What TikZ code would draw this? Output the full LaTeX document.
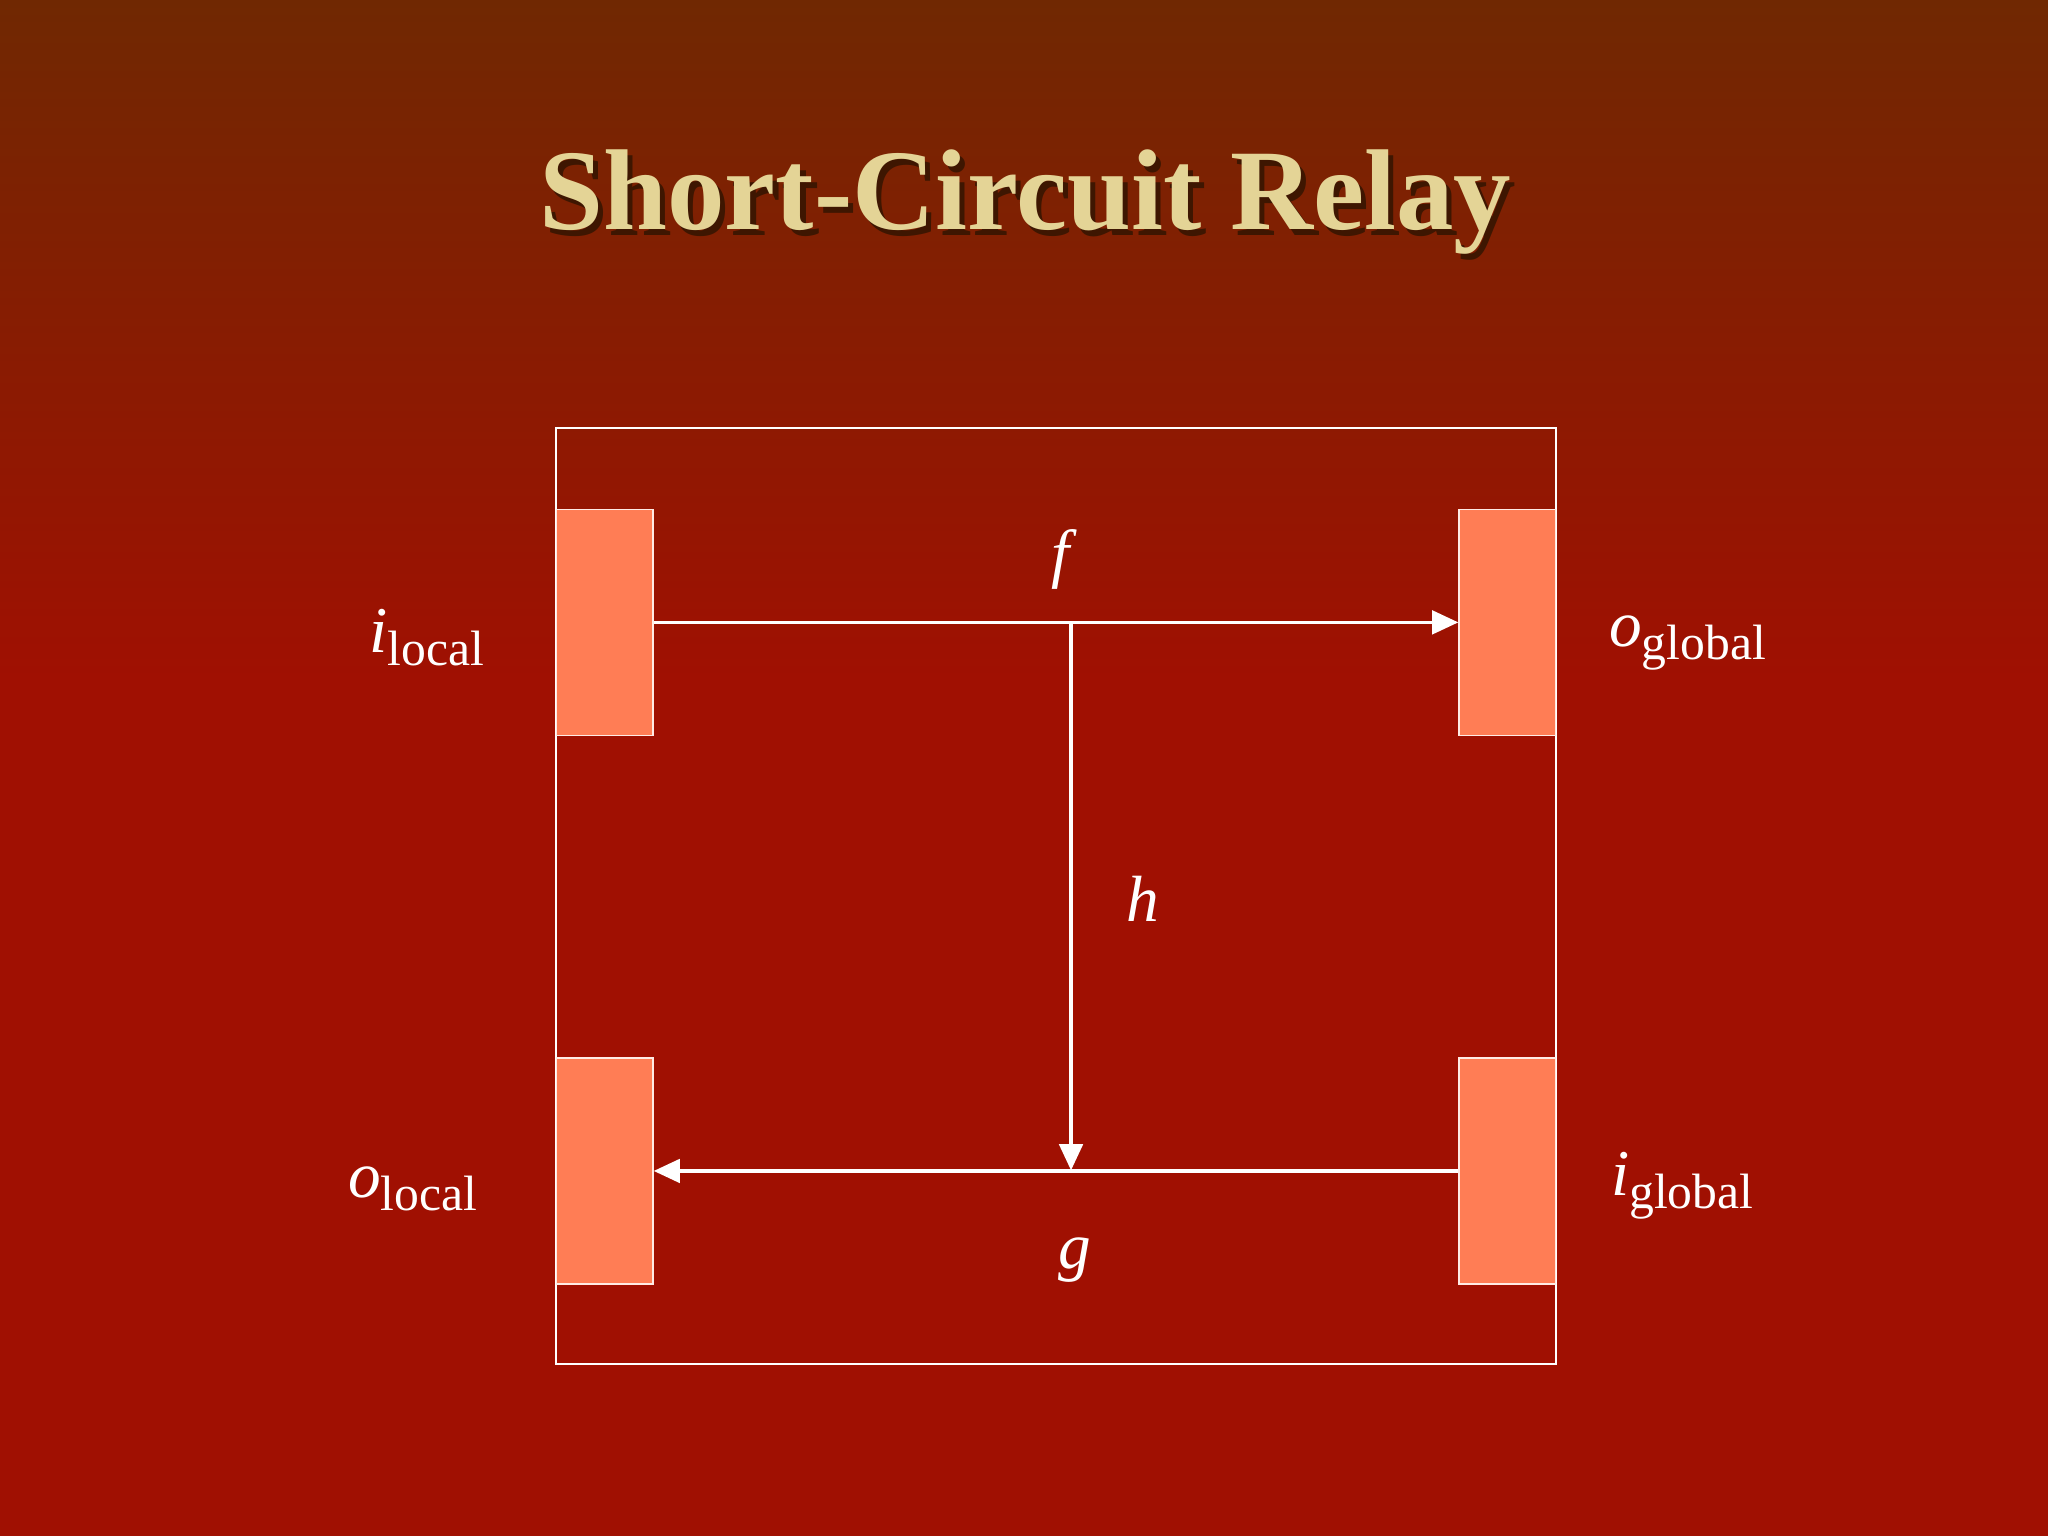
\documentclass[tikz,border=0pt]{standalone}
\usepackage{fontspec}
\setmainfont{Liberation Serif}
\usetikzlibrary{arrows.meta}
\definecolor{bgtop}{RGB}{112,40,2}
\definecolor{bgbot}{RGB}{160,16,2}
\definecolor{coral}{RGB}{255,125,85}
\definecolor{titlec}{RGB}{228,212,150}
\tikzset{
 port/.style={draw=white!85!coral,line width=1pt,fill=coral,minimum width=74pt,minimum height=173pt,inner sep=0pt},
 wire/.style={white,line width=2.5pt},
 arr/.style={wire,-{Triangle[length=20pt,width=18pt]}},
 lbl/.style={text=white,font=\fontsize{50}{50}\selectfont\itshape},
 ttl/.style={font=\fontsize{88}{88}\selectfont\bfseries},
}
\begin{document}
\begin{tikzpicture}[x=1pt,y=-1pt]
\useasboundingbox (0,0) rectangle (1568,1176);
\fill[bgbot] (0,0) rectangle (1568,1176);
\shade[top color=bgtop,bottom color=bgbot] (0,0) rectangle (1568,520);
\node[text=black!45!bgtop,ttl] at (789,159) {Short-Circuit Relay};
\node (title) [text=titlec,ttl] at (785,155) {Short-Circuit Relay};
\node (frame) [draw=white,line width=1.5pt,minimum width=765pt,minimum height=716pt,inner sep=0pt] at (808.5,686) {};
\node (il) [port] at (463,476.5) {};
\node (og) [port] at (1154,476.5) {};
\node (ol) [port] at (463,896.5) {};
\node (ig) [port] at (1154,896.5) {};
\coordinate (j) at (820,477);
\coordinate (k) at (820,896);
\draw[arr] (il.east) -- (og.west);
\draw[arr] (j) -- (k);
\draw[arr] (ig.west) -- (ol.east);
\node (f) [lbl] at (812,428) {f};
\node (h) [lbl] at (875,688) {h};
\node (g) [lbl] at (823,965) {g};
\node (lil) [lbl] at (327,488) {i\textup{\fontsize{38}{38}\selectfont\raisebox{-10pt}{local}}};
\node (log) [lbl] at (1292,492) {o\textup{\fontsize{38}{38}\selectfont\raisebox{-10pt}{global}}};
\node (lol) [lbl] at (316,910) {o\textup{\fontsize{38}{38}\selectfont\raisebox{-10pt}{local}}};
\node (lig) [lbl] at (1288,908) {i\textup{\fontsize{38}{38}\selectfont\raisebox{-10pt}{global}}};
\end{tikzpicture}
\end{document}
